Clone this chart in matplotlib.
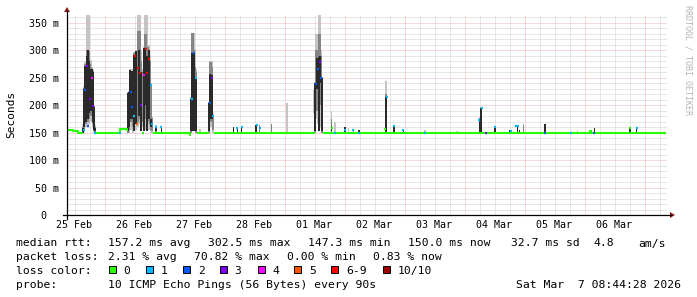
import numpy as np
import matplotlib
matplotlib.use("Agg")
import matplotlib.pyplot as plt
from matplotlib.lines import Line2D
from matplotlib.patches import Polygon, Rectangle

plt.rcParams["lines.scale_dashes"] = False
N = np.nan
# ---------------- data (x = hours since 25 Feb 09:00) ----------------
day_labels = ["25 Feb", "26 Feb", "27 Feb", "28 Feb", "01 Mar",
              "02 Mar", "03 Mar", "04 Mar", "05 Mar", "06 Mar"]
day_label_hour = [3, 27, 51, 75, 99, 123, 147, 171, 195, 219]
midnight_hour = [15, 39, 63, 87, 111, 135, 159, 183, 207, 231]
y_ticks = [0, 50, 100, 150, 200, 250, 300, 350]
y_tick_labels = ["0  ", "50 m", "100 m", "150 m", "200 m", "250 m", "300 m", "350 m"]

# green median baseline segments (start hour, end hour, ms)
base_start = [0, 2.5, 4.5, 11.4, 21.0, 23.8, 30.0, 34.2, 49.0, 51.8, 58.6, 102.2]
base_end   = [2.5, 4.5, 6.2, 21.0, 23.8, 24.4, 30.6, 49.0, 49.5, 56.6, 99.0, 239.5]
base_ms    = [155, 152, 150, 150, 157, 154, 150, 150, 146, 150, 150, 150]

# smoke columns
smoke_hour = [
    6.4, 6.8, 7.2, 7.6, 8.0, 8.4, 8.8, 9.2, 9.6, 10.0, 10.4, 10.8, 11.2,
    24.4, 24.8, 25.2, 25.6, 26.0, 26.4, 26.8, 27.2, 27.6, 28.0, 28.4, 28.8, 29.2,
    29.6, 30.0, 30.4, 30.8, 31.2, 31.6, 32.0, 32.4, 32.8, 33.2, 33.6, 34.0,
    35.6, 37.7,
    49.6, 50.0, 50.4, 50.8, 51.2, 51.6, 53.2,
    56.8, 57.2, 57.6, 58.0, 58.4,
    66.5, 68.1, 69.9, 75.5, 76.9, 81.9, 87.9,
    98.8, 99.2, 99.6, 100.0, 100.4, 100.8, 101.2, 101.6, 102.0,
    105.9, 107.2, 111.2, 112.5, 114.5, 116.8, 127.6, 130.8, 134.5, 143.2, 156.0,
    164.9, 165.7, 171.2, 177.2, 180.1, 180.9, 182.5, 191.2, 204.3, 210.9, 225.2, 227.9,
]
smoke_width = [
    .4, .4, .4, .4, .4, .4, .4, .4, .4, .4, .4, .4, .4,
    .4, .4, .4, .4, .4, .4, .4, .4, .4, .4, .4, .4, .4,
    .4, .4, .4, .4, .4, .4, .4, .4, .4, .4, .4, .4,
    .6, .4,
    .4, .4, .4, .4, .4, .4, .4,
    .4, .4, .4, .4, .4,
    .4, .4, .4, .6, .4, .4, .8,
    .4, .4, .4, .4, .4, .4, .4, .4, .4,
    .4, .4, .4, .4, .4, .4, .6, .4, .4, .4, .4,
    .4, .8, .4, .4, .4, .4, .4, .4, .4, .4, .4, .4,
]
light_lo = [
    150, 150, 160, 160, 160, 160, 165, 170, 175, 170, 160, 150, 150,
    150, 150, 155, 155, 155, 150, 155, 155, 155, 160, 160, 165, 165,
    170, N, 160, 155, 155, 155, 155, 155, 155, 155, 150, 150,
    150, 150,
    150, 155, 160, 160, 155, 150, 150,
    150, 160, 165, 160, 150,
    150, 150, 150, 150, 150, 150, 150,
    185, 150, 175, 175, 165, 165, 170, 160, 150,
    150, 150, 150, 150, 150, 150, 150, 150, 150, 150, 150,
    150, 150, 150, 150, 150, 150, 150, 150, 150, 150, 150, 150,
]
light_hi = [
    165, 235, 278, 278, 365, 365, 365, 282, 282, 270, 265, 200, 163,
    224, 225, 265, 265, 265, 265, 296, 296, 296, 300, 364, 364, 364,
    300, N, 265, 305, 364, 364, 364, 310, 310, 290, 240, 178,
    163, 162,
    214, 332, 332, 332, 300, 266, 156,
    206, 280, 280, 280, 185,
    161, 160, 160, 164, 164, 166, 203,
    227, 242, 330, 330, 330, 364, 364, 300, 252,
    190, 170, 160, 158, 155, 155, 243, 162, 155, 155, 152,
    178, 196, 161, 155, 162, 155, 165, 166, 155, 158, 158, 158,
]
mid_lo = [
    150, 155, 165, 165, 170, 170, 175, 180, 185, 180, 165, 152, 150,
    150, 155, 170, 170, 170, 160, 165, 165, 165, 165, 170, 175, 180,
    180, N, 170, 175, 175, 175, 175, 175, 170, 165, 155, 152,
    150, 150,
    150, 170, 175, 175, 170, 150, N,
    150, 170, 175, 170, 155,
    150, 150, 150, 150, 150, 150, N,
    N, 150, 190, 200, 190, 200, 210, 200, 150,
    150, N, 150, N, 150, 150, 150, 150, 150, N, N,
    150, 150, 150, 150, 150, 150, 150, 150, N, 150, 150, 150,
]
mid_hi = [
    160, 232, 275, 275, 300, 300, 298, 275, 270, 266, 262, 198, 160,
    222, 224, 262, 262, 240, 250, 294, 294, 294, 298, 334, 334, 334,
    280, N, 260, 303, 330, 330, 305, 305, 300, 280, 238, 176,
    162, 162,
    213, 332, 332, 300, 270, 260, N,
    205, 278, 278, 270, 182,
    161, 160, 160, 164, 164, 165, N,
    N, 241, 300, 300, 288, 330, 330, 290, 251,
    175, N, 160, N, 155, 155, 220, 162, 155, N, N,
    176, 195, 161, 155, 162, 155, 164, 166, N, 158, 158, 158,
]
dark_lo = [
    150, 160, 170, 170, 180, 175, 185, 190, 195, 190, 170, 155, 152,
    152, 160, 175, N, 175, N, 152, N, 165, N, N, 180, N,
    152, N, N, 152, 200, N, 152, N, 175, N, 160, N,
    152, 150,
    152, 152, N, 152, N, 152, N,
    152, 175, N, 175, N,
    150, 150, 150, 150, N, N, N,
    N, 152, N, 230, N, 152, 240, N, 152,
    152, N, 150, N, N, 150, 150, 150, 150, N, N,
    150, 150, 150, 150, 150, 150, N, 150, N, 150, 150, 150,
]
dark_hi = [
    158, 230, 272, 272, 290, 300, 280, 265, 265, 265, 260, 196, 158,
    222, 224, 264, N, 262, N, 291, N, 298, N, N, 300, N,
    260, N, N, 304, 303, N, 290, N, 300, N, 175, N,
    160, 162,
    212, 295, N, 295, N, 250, N,
    204, 257, N, 255, N,
    161, 160, 160, 164, N, N, N,
    N, 240, N, 285, N, 288, 290, N, 250,
    162, N, 160, N, N, 155, 215, 162, 155, N, N,
    175, 194, 161, 155, 162, 155, N, 166, N, 158, 158, 158,
]

# median samples coloured by loss
med_hour = [6.8, 7.3, 8.0, 8.5, 9.2, 10.0, 10.5, 11.2,
            21.2,
            25.5, 26.1, 26.8, 27.2, 27.9, 28.3, 29.2, 29.6, 30.8, 31.5, 31.9, 32.7, 33.5, 33.9,
            35.7, 37.7,
            49.9, 50.8, 51.4,
            57.2, 57.9, 58.5,
            68.1, 69.9, 75.9, 77.3,
            99.7, 100.5, 101.2, 101.7,
            105.9, 107.2, 111.2, 114.5, 116.8, 127.2, 127.8, 130.8, 134.5, 143.2,
            164.9, 165.9, 167.6, 171.2, 177.6, 180.1, 191.2, 201.5, 209.2, 210.9, 225.2, 227.9]
med_ms = [154, 227, 271, 162, 212, 249, 198, 150,
          150,
          224, 197, 180, 290, 166, 267, 259, 201, 255, 302, 259, 284, 237, 166,
          160, 160,
          212, 294, 250,
          204, 250, 180,
          159, 160, 164, 158,
          238, 266, 279, 249,
          158, 150, 155, 155, 150, 156, 215, 162, 155, 150,
          173, 194, 150, 161, 153, 162, 150, 150, 153, 150, 158, 158]
med_loss = [1, 2, 3, 2, 3, 4, 3, 1,
            1,
            2, 2, 1, 6, 5, 6, 6, 3, 4, 6, 6, 6, 1, 1,
            1, 1,
            1, 2, 1,
            2, 3, 1,
            1, 1, 1, 1,
            2, 2, 3, 2,
            0, 1, 1, 1, 1, 0, 1, 1, 1, 1,
            1, 1, 3, 1, 1, 1, 2, 1, 0, 2, 0, 1]
med_width = [.8] * 54 + [1.6] + [.8] * 2 + [1.2] + [.8] * 3

loss_labels = ["0", "1", "2", "3", "4", "5", "6-9", "10/10"]
loss_colors = ["#26ff00", "#00b8ff", "#0059ff", "#7e00ff",
               "#ff00ff", "#ff5500", "#ff0000", "#a10000"]

stats_rtt = ["157.2 ms avg", "302.5 ms max", "147.3 ms min", "150.0 ms now", "32.7 ms sd", "4.8", "am/s"]
stats_loss = ["2.31 % avg", "70.82 % max", "0.00 % min", "0.83 % now"]
probe_text = "10 ICMP Echo Pings (56 Bytes) every 90s"
stamp_text = "Sat Mar  7 08:44:28 2026"

# ---------------- figure ----------------
W, H = 697, 297
fig = plt.figure(figsize=(W / 100, H / 100), dpi=100)
fig.patch.set_facecolor("white")
MONO = "DejaVu Sans Mono"

def fx(x):
    return x / W

def fy(y):
    return 1 - y / H

L, R, T, B = 67, 667, 15, 215
ax = fig.add_axes([fx(L), fy(B), (R - L) / W, (B - T) / H])
ax.set_xlim(0, 240)
ax.set_ylim(0, 364)
ax.set_facecolor("white")
for s in ax.spines.values():
    s.set_visible(False)

# grid (1px on / 1px off dots)
minor_c = "#cfcfcf"
major_c = "#f3b2b2"
ds = (0, (0.72, 0.72))
for v in range(10, 361, 10):
    if v % 50:
        ax.axhline(v, color=minor_c, lw=0.72, ls=ds, zorder=0.5, snap=True)
for v in range(50, 361, 50):
    ax.axhline(v, color=major_c, lw=0.72, ls=ds, zorder=0.6, snap=True)
for hh in np.arange(3, 240, 6):
    if (hh - 15) % 24:
        ax.axvline(hh, color=minor_c, lw=0.72, ls=ds, zorder=0.5, snap=True)
for hh in midnight_hour:
    ax.axvline(hh, color=major_c, lw=0.72, ls=ds, zorder=0.6, snap=True)

# smoke layers
sh = np.array(smoke_hour)
sw = np.array(smoke_width)
for lo, hi, col, z in [(light_lo, light_hi, "#c4c4c4", 2),
                       (mid_lo, mid_hi, "#858585", 2.1),
                       (dark_lo, dark_hi, "#2a2a2a", 2.2)]:
    lo = np.array(lo, float)
    hi = np.array(hi, float)
    m = ~np.isnan(lo)
    ax.bar(sh[m], hi[m] - lo[m], bottom=lo[m], width=sw[m] + 0.04,
           color=col, linewidth=0, zorder=z, align="center")

# green baseline median
xs, ys = [], []
prev_end = None
for s, e, v in zip(base_start, base_end, base_ms):
    if prev_end is not None and abs(s - prev_end) > 1e-9:
        ax.plot(xs, ys, color=loss_colors[0], lw=1.5, zorder=3, solid_capstyle="butt")
        xs, ys = [], []
    xs += [s, e]
    ys += [v, v]
    prev_end = e
ax.plot(xs, ys, color=loss_colors[0], lw=1.5, zorder=3, solid_capstyle="butt")

# coloured median samples
for hh, v, lo, w in zip(med_hour, med_ms, med_loss, med_width):
    ax.hlines(v, hh - w / 2, hh + w / 2, color=loss_colors[lo], lw=1.6, zorder=4)

# ticks
ax.set_yticks(y_ticks)
ax.set_yticklabels(y_tick_labels, fontfamily=MONO, fontsize=7.2)
ax.set_xticks(day_label_hour)
ax.set_xticklabels(day_labels, fontfamily=MONO, fontsize=7.2)
ax.tick_params(axis="y", length=0, pad=5.8)
ax.tick_params(axis="x", length=0, pad=3.5)

# axes lines with arrows
axis_c = "#000000"
arrow_c = "#8b1a1a"
fig.add_artist(Line2D([fx(63), fx(671)], [fy(215), fy(215)], color=axis_c, lw=0.9))
fig.add_artist(Line2D([fx(67), fx(67)], [fy(219), fy(11)], color=axis_c, lw=0.9))
fig.add_artist(Polygon([(fx(670), fy(212)), (fx(670), fy(218)), (fx(675), fy(215))],
                       closed=True, color=arrow_c, lw=0))
fig.add_artist(Polygon([(fx(64), fy(12)), (fx(70), fy(12)), (fx(67), fy(7))],
                       closed=True, color=arrow_c, lw=0))

# titles
fig.text(fx(11), fy(114), "Seconds", rotation=90, ha="center", va="center",
         fontfamily=MONO, fontsize=8)
fig.text(fx(688), fy(60), "RRDTOOL / TOBI OETIKER", rotation=270, ha="center", va="center",
         fontfamily=MONO, fontsize=6, color="#b4b4b4")

# legend text
FS = 8.2
def t(x, y, s, ha="left"):
    fig.text(fx(x), fy(y), s, ha=ha, va="baseline", fontfamily=MONO, fontsize=FS, color="black")

y1, y2, y3, y4 = 246.5, 260.2, 274.0, 287.8
t(16, y1, "median rtt:")
for x, s in zip([107.5, 207.5, 308, 408, 511, 593, 638], stats_rtt):
    t(x, y1, s)
t(16, y2, "packet loss:")
for x, s in zip([107.5, 194, 287, 373], stats_loss):
    t(x, y2, s)
t(16, y3, "loss color:")
sw_x = [108.7, 145.7, 183.1, 220.0, 257.5, 294.4, 331.4, 382.6]
for x, c, lab in zip(sw_x, loss_colors, loss_labels):
    fig.add_artist(Rectangle((fx(x), fy(273)), 7 / W, 7 / H, facecolor=c,
                             edgecolor="black", lw=0.7))
    t(x + 14.7, y3, lab)
t(16, y4, "probe:")
t(107.5, y4, probe_text)
t(681, y4, stamp_text, ha="right")

fig.savefig("out.png", dpi=100, facecolor="white")
